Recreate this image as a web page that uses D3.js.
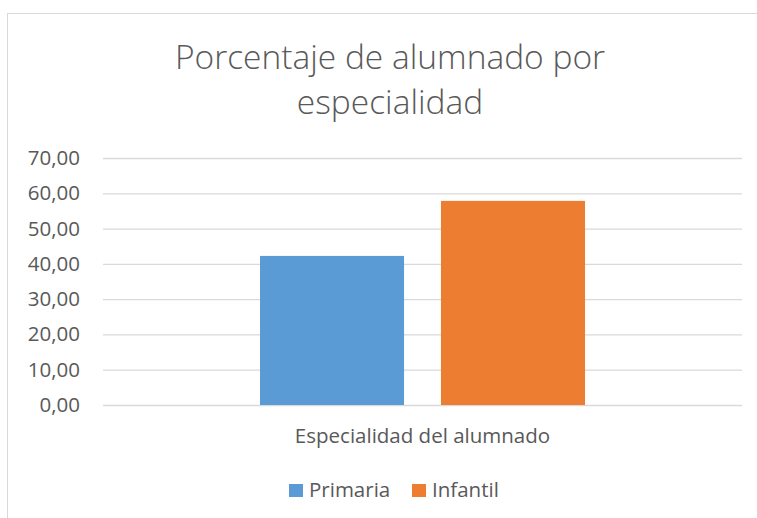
<!DOCTYPE html>
<html>
<head>
<meta charset="utf-8">
<script src="https://cdn.jsdelivr.net/npm/d3@7"></script>
<style>
  body { margin: 0; background: #fff; }
  svg { display: block; font-family: "Open Sans", sans-serif; }
</style>
</head>
<body>
<div id="chart"></div>
<script>
// data
var categories = ["Especialidad del alumnado"];
var seriesNames = ["Primaria", "Infantil"];
var seriesValues = [42.25, 57.85];
var yTicks = [0, 10, 20, 30, 40, 50, 60, 70];
var colors = ["#5B9BD5", "#ED7D31"];

var W = 757, H = 518;
var margin = { top: 158, right: 15, bottom: 113, left: 103 };

var svg = d3.select("#chart").append("svg")
  .attr("width", W)
  .attr("height", H);

// chart border (runs off the right and bottom edge)
svg.append("rect")
  .attr("x", 7.5).attr("y", 13.5)
  .attr("width", 780).attr("height", 540)
  .attr("fill", "none")
  .attr("stroke", "#D9D9D9");

// title, two lines
var title = svg.append("text")
  .attr("text-anchor", "middle")
  .attr("fill", "#595959")
  .style("font-size", "33.5px")
  .style("font-weight", 300);
title.append("tspan").attr("x", 390).attr("y", 69).text("Porcentaje de alumnado por");
title.append("tspan").attr("x", 390).attr("y", 114).text("especialidad");

var plotW = W - margin.left - margin.right;
var plotH = H - margin.top - margin.bottom;
var g = svg.append("g").attr("transform", "translate(" + margin.left + "," + margin.top + ")");

var y = d3.scaleLinear().domain([0, 70]).range([plotH, 0]);
var x0 = d3.scaleBand().domain(categories).range([0, plotW]).paddingInner(0).paddingOuter(0.483);
var x1 = d3.scaleBand().domain(seriesNames).range([0, x0.bandwidth()]).paddingInner(0.204).paddingOuter(0);

// gridlines
var yAxis = d3.axisLeft(y)
  .tickValues(yTicks)
  .tickSize(-plotW)
  .tickPadding(23)
  .tickFormat(function (d) { return d3.format(".2f")(d).replace(".", ","); });

var ya = g.append("g").call(yAxis);
ya.select(".domain").remove();
ya.selectAll(".tick line").attr("stroke", "#D9D9D9").attr("stroke-width", 1.3);
ya.selectAll(".tick text")
  .attr("fill", "#595959")
  .style("font-size", "20.5px")
  .style("font-family", "'Open Sans', sans-serif");

// bars
var cat = g.selectAll(".cat").data(categories).enter().append("g")
  .attr("transform", function (d) { return "translate(" + x0(d) + ",0)"; });

cat.selectAll("rect")
  .data(seriesNames.map(function (n, i) { return { name: n, value: seriesValues[i], color: colors[i] }; }))
  .enter().append("rect")
  .attr("x", function (d) { return x1(d.name); })
  .attr("y", function (d) { return y(d.value); })
  .attr("width", x1.bandwidth())
  .attr("height", function (d) { return plotH - y(d.value); })
  .attr("fill", function (d) { return d.color; });

// category label
g.append("text")
  .attr("x", x0(categories[0]) + x0.bandwidth() / 2)
  .attr("y", plotH + 38)
  .attr("text-anchor", "middle")
  .attr("fill", "#595959")
  .style("font-size", "20.5px")
  .text(categories[0]);

// legend
var legend = svg.append("g").attr("transform", "translate(289,484)");
var legX = [0, 123];
var items = legend.selectAll("g").data(seriesNames).enter().append("g")
  .attr("transform", function (d, i) { return "translate(" + legX[i] + ",0)"; });
items.append("rect")
  .attr("width", 14).attr("height", 13)
  .attr("fill", function (d, i) { return colors[i]; });
items.append("text")
  .attr("x", 20).attr("y", 13)
  .attr("fill", "#595959")
  .style("font-size", "20.5px")
  .text(function (d) { return d; });
</script>
</body>
</html>
